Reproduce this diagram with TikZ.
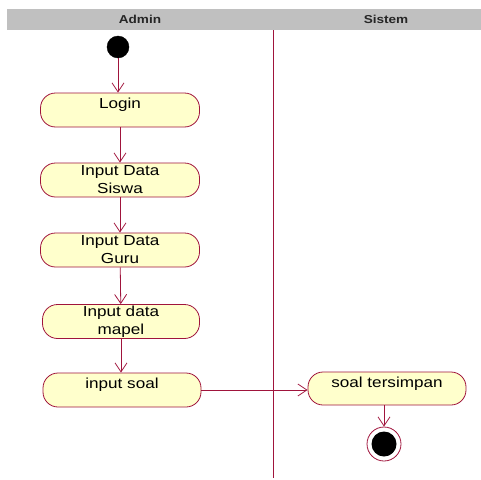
\documentclass[tikz,border=0pt]{standalone}
\usepackage{fontspec}
\setmainfont{Liberation Sans}
\newfontfamily\umlfont[FakeStretch=1.18]{Liberation Sans}
\usepackage{tikz}
\usetikzlibrary{arrows.meta,positioning}
\usepackage{xcolor}
\definecolor{umlred}{RGB}{160,20,60}
\definecolor{umlfill}{RGB}{255,255,204}
\definecolor{umlgrey}{RGB}{192,192,192}
\tikzstyle{arrow} = [-{Straight Barb[length=9pt,width=12pt]}, color=umlred, line width=0.8pt]
\tikzstyle{activity} = [rectangle, rounded corners=15pt, minimum width=159pt, minimum height=34pt, text centered, align=center, draw=umlred, fill=umlfill, line width=0.8pt, font=\umlfont\fontsize{14.5}{18}\selectfont, inner sep=0pt]
\tikzstyle{oneline} = [text height=10.5pt, text depth=13pt]
\tikzstyle{lane} = [font=\umlfont\bfseries\fontsize{11.5}{12}\selectfont, text=black!85]

\begin{document}
\begin{tikzpicture}[x=1pt, y=-1pt]
\useasboundingbox (0,0) rectangle (481,479);

% Swimlanes
\fill[umlgrey] (7,9) rectangle (481,30);
\node (admin) [lane] at (140,19.5) {Admin};
\node (sistem) [lane] at (386,19.5) {Sistem};
\draw[umlred, line width=0.8pt] (273,30) -- (273,478);

% Start
\node (start) [circle, fill=black, draw=black, minimum size=22pt, inner sep=0pt] at (118,47) {};

% Admin activities
\node (login) [activity, oneline] at (120,110) {Login};
\node (siswa) [activity] at (120,180) {Input Data\\Siswa};
\node (guru) [activity] at (120,250) {Input Data\\Guru};
\node (mapel) [activity, minimum width=157pt] at (121,321.5) {Input data\\mapel};
\node (soal) [activity, oneline, minimum width=158pt] at (122,390) {input soal};

% Sistem activity
\node (simpan) [activity, oneline, minimum width=158pt, minimum height=33pt] at (387,388.5) {soal tersimpan};

% End
\node (end) [circle, draw=umlred, fill=white, minimum size=34pt, inner sep=0pt, line width=0.8pt] at (384,444) {};
\node (endin) [circle, fill=black, minimum size=25pt, inner sep=0pt] at (end) {};

% Arrows
\draw[arrow] (start) -- (start |- login.north);
\draw[arrow] (login) -- (siswa);
\draw[arrow] (siswa) -- (guru);
\draw[arrow] (guru) -- (mapel);
\draw[arrow] (mapel) -- (mapel |- soal.north);
\draw[arrow] (soal.east) -- (simpan.west |- soal.east);
\draw[arrow] (simpan.south -| end) -- (end);
\end{tikzpicture}
\end{document}
